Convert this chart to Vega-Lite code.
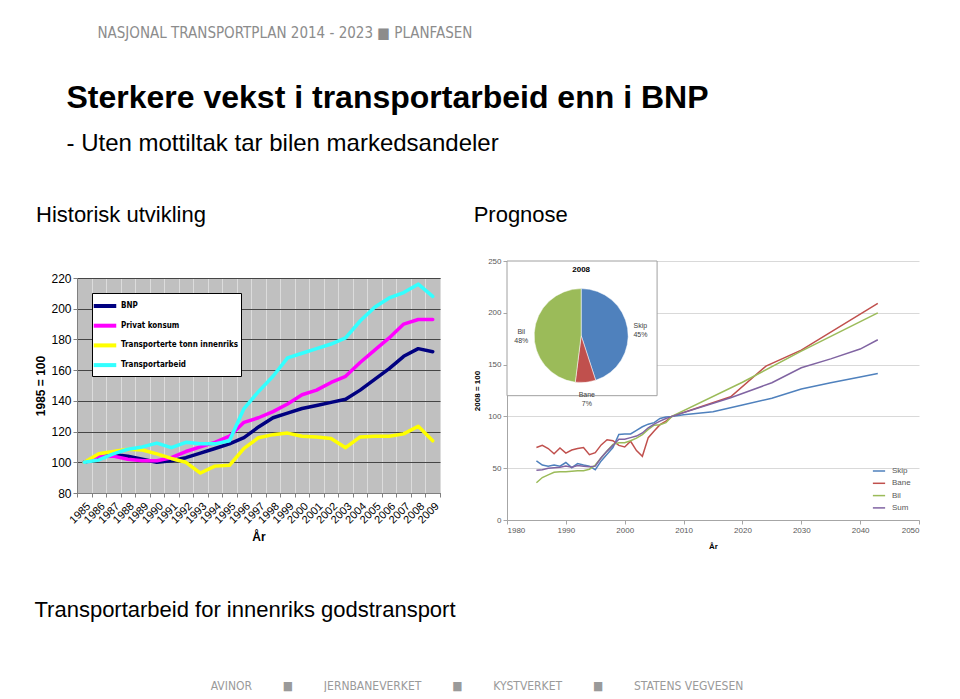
{
"$schema": "https://vega.github.io/schema/vega-lite/v6.json",
"background": "white",
"padding": {"left": 34, "top": 26, "right": 5, "bottom": 0},
"config": {"font": "Liberation Sans", "view": {"stroke": null}, "title": {"color": "black", "fontWeight": "normal"}, "axis": {"labelFont": "Liberation Sans", "titleFont": "Liberation Sans"}},
"datasets": {
"hist": [
{"year":1985,"series":"BNP","value":100},{"year":1986,"series":"BNP","value":103},{"year":1987,"series":"BNP","value":105},{"year":1988,"series":"BNP","value":104},{"year":1989,"series":"BNP","value":102},{"year":1990,"series":"BNP","value":100},{"year":1991,"series":"BNP","value":101},{"year":1992,"series":"BNP","value":103},{"year":1993,"series":"BNP","value":106},{"year":1994,"series":"BNP","value":109},{"year":1995,"series":"BNP","value":112},{"year":1996,"series":"BNP","value":116},{"year":1997,"series":"BNP","value":123},{"year":1998,"series":"BNP","value":129},{"year":1999,"series":"BNP","value":132},{"year":2000,"series":"BNP","value":135},{"year":2001,"series":"BNP","value":137},{"year":2002,"series":"BNP","value":139},{"year":2003,"series":"BNP","value":141},{"year":2004,"series":"BNP","value":147},{"year":2005,"series":"BNP","value":154},{"year":2006,"series":"BNP","value":161},{"year":2007,"series":"BNP","value":169},{"year":2008,"series":"BNP","value":174},{"year":2009,"series":"BNP","value":172},
{"year":1985,"series":"Privat konsum","value":100},{"year":1986,"series":"Privat konsum","value":104},{"year":1987,"series":"Privat konsum","value":104},{"year":1988,"series":"Privat konsum","value":102},{"year":1989,"series":"Privat konsum","value":101},{"year":1990,"series":"Privat konsum","value":101},{"year":1991,"series":"Privat konsum","value":103},{"year":1992,"series":"Privat konsum","value":107},{"year":1993,"series":"Privat konsum","value":110},{"year":1994,"series":"Privat konsum","value":113},{"year":1995,"series":"Privat konsum","value":117},{"year":1996,"series":"Privat konsum","value":126},{"year":1997,"series":"Privat konsum","value":129},{"year":1998,"series":"Privat konsum","value":133},{"year":1999,"series":"Privat konsum","value":138},{"year":2000,"series":"Privat konsum","value":144},{"year":2001,"series":"Privat konsum","value":147},{"year":2002,"series":"Privat konsum","value":152},{"year":2003,"series":"Privat konsum","value":156},{"year":2004,"series":"Privat konsum","value":165},{"year":2005,"series":"Privat konsum","value":173},{"year":2006,"series":"Privat konsum","value":181},{"year":2007,"series":"Privat konsum","value":190},{"year":2008,"series":"Privat konsum","value":193},{"year":2009,"series":"Privat konsum","value":193},
{"year":1985,"series":"Transporterte tonn innenriks","value":100},{"year":1986,"series":"Transporterte tonn innenriks","value":105.5},{"year":1987,"series":"Transporterte tonn innenriks","value":107},{"year":1988,"series":"Transporterte tonn innenriks","value":108.5},{"year":1989,"series":"Transporterte tonn innenriks","value":108},{"year":1990,"series":"Transporterte tonn innenriks","value":105.5},{"year":1991,"series":"Transporterte tonn innenriks","value":102.5},{"year":1992,"series":"Transporterte tonn innenriks","value":100},{"year":1993,"series":"Transporterte tonn innenriks","value":93},{"year":1994,"series":"Transporterte tonn innenriks","value":97.5},{"year":1995,"series":"Transporterte tonn innenriks","value":98},{"year":1996,"series":"Transporterte tonn innenriks","value":109},{"year":1997,"series":"Transporterte tonn innenriks","value":116},{"year":1998,"series":"Transporterte tonn innenriks","value":118},{"year":1999,"series":"Transporterte tonn innenriks","value":119},{"year":2000,"series":"Transporterte tonn innenriks","value":117},{"year":2001,"series":"Transporterte tonn innenriks","value":116.5},{"year":2002,"series":"Transporterte tonn innenriks","value":115.5},{"year":2003,"series":"Transporterte tonn innenriks","value":109.5},{"year":2004,"series":"Transporterte tonn innenriks","value":116.5},{"year":2005,"series":"Transporterte tonn innenriks","value":117},{"year":2006,"series":"Transporterte tonn innenriks","value":117},{"year":2007,"series":"Transporterte tonn innenriks","value":118.5},{"year":2008,"series":"Transporterte tonn innenriks","value":123.5},{"year":2009,"series":"Transporterte tonn innenriks","value":114},
{"year":1985,"series":"Transportarbeid","value":100},{"year":1986,"series":"Transportarbeid","value":101.5},{"year":1987,"series":"Transportarbeid","value":105.5},{"year":1988,"series":"Transportarbeid","value":108.5},{"year":1989,"series":"Transportarbeid","value":110},{"year":1990,"series":"Transportarbeid","value":112.5},{"year":1991,"series":"Transportarbeid","value":109.5},{"year":1992,"series":"Transportarbeid","value":113},{"year":1993,"series":"Transportarbeid","value":112},{"year":1994,"series":"Transportarbeid","value":112},{"year":1995,"series":"Transportarbeid","value":114},{"year":1996,"series":"Transportarbeid","value":135},{"year":1997,"series":"Transportarbeid","value":146},{"year":1998,"series":"Transportarbeid","value":156},{"year":1999,"series":"Transportarbeid","value":168},{"year":2000,"series":"Transportarbeid","value":171},{"year":2001,"series":"Transportarbeid","value":174},{"year":2002,"series":"Transportarbeid","value":177},{"year":2003,"series":"Transportarbeid","value":181},{"year":2004,"series":"Transportarbeid","value":192},{"year":2005,"series":"Transportarbeid","value":201},{"year":2006,"series":"Transportarbeid","value":207},{"year":2007,"series":"Transportarbeid","value":210.5},{"year":2008,"series":"Transportarbeid","value":216},{"year":2009,"series":"Transportarbeid","value":208}
],
"prog": [
{"year":1985,"series":"Skip","value":57},{"year":1986,"series":"Skip","value":53},{"year":1987,"series":"Skip","value":52},{"year":1988,"series":"Skip","value":53},{"year":1989,"series":"Skip","value":52},{"year":1990,"series":"Skip","value":55.5},{"year":1991,"series":"Skip","value":50.5},{"year":1992,"series":"Skip","value":54.5},{"year":1993,"series":"Skip","value":53},{"year":1994,"series":"Skip","value":52},{"year":1995,"series":"Skip","value":48.5},{"year":1996,"series":"Skip","value":57},{"year":1997,"series":"Skip","value":63.5},{"year":1998,"series":"Skip","value":70},{"year":1999,"series":"Skip","value":82.5},{"year":2000,"series":"Skip","value":83},{"year":2001,"series":"Skip","value":83},{"year":2002,"series":"Skip","value":86.5},{"year":2003,"series":"Skip","value":90},{"year":2004,"series":"Skip","value":92.5},{"year":2005,"series":"Skip","value":94},{"year":2006,"series":"Skip","value":98},{"year":2007,"series":"Skip","value":99.5},{"year":2008,"series":"Skip","value":100},{"year":2010,"series":"Skip","value":101.5},{"year":2015,"series":"Skip","value":104.5},{"year":2020,"series":"Skip","value":111},{"year":2025,"series":"Skip","value":117.5},{"year":2030,"series":"Skip","value":126.5},{"year":2035,"series":"Skip","value":132.5},{"year":2040,"series":"Skip","value":138},{"year":2043,"series":"Skip","value":141.5},
{"year":1985,"series":"Bane","value":70},{"year":1986,"series":"Bane","value":72},{"year":1987,"series":"Bane","value":69},{"year":1988,"series":"Bane","value":64},{"year":1989,"series":"Bane","value":69.5},{"year":1990,"series":"Bane","value":64.5},{"year":1991,"series":"Bane","value":67.5},{"year":1992,"series":"Bane","value":69},{"year":1993,"series":"Bane","value":70},{"year":1994,"series":"Bane","value":63},{"year":1995,"series":"Bane","value":65},{"year":1996,"series":"Bane","value":72.5},{"year":1997,"series":"Bane","value":77.5},{"year":1998,"series":"Bane","value":76.5},{"year":1999,"series":"Bane","value":72},{"year":2000,"series":"Bane","value":70.5},{"year":2001,"series":"Bane","value":76},{"year":2002,"series":"Bane","value":67},{"year":2003,"series":"Bane","value":61.5},{"year":2004,"series":"Bane","value":79.5},{"year":2005,"series":"Bane","value":86},{"year":2006,"series":"Bane","value":92},{"year":2007,"series":"Bane","value":95.5},{"year":2008,"series":"Bane","value":100},{"year":2018,"series":"Bane","value":119},{"year":2024,"series":"Bane","value":148.5},{"year":2030,"series":"Bane","value":164},{"year":2043,"series":"Bane","value":209},
{"year":1985,"series":"Bil","value":36},{"year":1986,"series":"Bil","value":41},{"year":1987,"series":"Bil","value":43.5},{"year":1988,"series":"Bil","value":46},{"year":1989,"series":"Bil","value":46.5},{"year":1990,"series":"Bil","value":46.5},{"year":1991,"series":"Bil","value":47},{"year":1992,"series":"Bil","value":47.5},{"year":1993,"series":"Bil","value":47.5},{"year":1994,"series":"Bil","value":49},{"year":1995,"series":"Bil","value":53},{"year":1996,"series":"Bil","value":60},{"year":1997,"series":"Bil","value":66.5},{"year":1998,"series":"Bil","value":73},{"year":1999,"series":"Bil","value":74.5},{"year":2000,"series":"Bil","value":74.5},{"year":2001,"series":"Bil","value":76.5},{"year":2002,"series":"Bil","value":79},{"year":2003,"series":"Bil","value":82.5},{"year":2004,"series":"Bil","value":87.5},{"year":2005,"series":"Bil","value":91.5},{"year":2006,"series":"Bil","value":92},{"year":2007,"series":"Bil","value":94},{"year":2008,"series":"Bil","value":100},{"year":2020,"series":"Bil","value":133},{"year":2030,"series":"Bil","value":163},{"year":2043,"series":"Bil","value":200},
{"year":1985,"series":"Sum","value":48},{"year":1986,"series":"Sum","value":48.5},{"year":1987,"series":"Sum","value":50},{"year":1988,"series":"Sum","value":50.5},{"year":1989,"series":"Sum","value":51},{"year":1990,"series":"Sum","value":52},{"year":1991,"series":"Sum","value":51},{"year":1992,"series":"Sum","value":52.5},{"year":1993,"series":"Sum","value":52},{"year":1994,"series":"Sum","value":51.5},{"year":1995,"series":"Sum","value":52},{"year":1996,"series":"Sum","value":60},{"year":1997,"series":"Sum","value":66.5},{"year":1998,"series":"Sum","value":72},{"year":1999,"series":"Sum","value":78},{"year":2000,"series":"Sum","value":78},{"year":2001,"series":"Sum","value":79.5},{"year":2002,"series":"Sum","value":81},{"year":2003,"series":"Sum","value":84},{"year":2004,"series":"Sum","value":89},{"year":2005,"series":"Sum","value":92.5},{"year":2006,"series":"Sum","value":95.5},{"year":2007,"series":"Sum","value":98},{"year":2008,"series":"Sum","value":100},{"year":2018,"series":"Sum","value":118},{"year":2025,"series":"Sum","value":132.5},{"year":2030,"series":"Sum","value":147},{"year":2035,"series":"Sum","value":155.5},{"year":2040,"series":"Sum","value":165},{"year":2043,"series":"Sum","value":174}
],
"pie": [
{"series":"Skip","pct":45,"ord":1,"label":"Skip\n45%"},
{"series":"Bane","pct":7,"ord":2,"label":"Bane\n7%"},
{"series":"Bil","pct":48,"ord":3,"label":"Bil\n48%"}
]
},
"title": {"text": "NASJONAL TRANSPORTPLAN 2014 - 2023  ■  PLANFASEN", "font": "DejaVu Sans Condensed, DejaVu Sans, sans-serif", "fontSize": 15, "color": "#8c8c8c", "fontWeight": "normal", "anchor": "start", "dx": 63, "offset": 41},
"vconcat": [{
  "title": {"text": "AVINOR\u00a0\u00a0\u00a0\u00a0\u00a0\u00a0\u00a0\u00a0\u00a0■\u00a0\u00a0\u00a0\u00a0\u00a0\u00a0\u00a0\u00a0\u00a0JERNBANEVERKET\u00a0\u00a0\u00a0\u00a0\u00a0\u00a0\u00a0\u00a0\u00a0■\u00a0\u00a0\u00a0\u00a0\u00a0\u00a0\u00a0\u00a0\u00a0KYSTVERKET\u00a0\u00a0\u00a0\u00a0\u00a0\u00a0\u00a0\u00a0\u00a0■\u00a0\u00a0\u00a0\u00a0\u00a0\u00a0\u00a0\u00a0\u00a0STATENS VEGVESEN", "orient": "bottom", "anchor": "middle", "font": "DejaVu Sans Condensed, DejaVu Sans, sans-serif", "fontSize": 12, "color": "#9a9a9a", "offset": 60},
  "vconcat": [{
    "title": {"text": "Sterkere vekst i transportarbeid enn i BNP", "subtitle": "- Uten mottiltak tar bilen markedsandeler", "fontSize": 32, "fontWeight": "bold", "color": "black", "subtitleFontSize": 24, "subtitleColor": "black", "subtitleFont": "Liberation Sans", "subtitlePadding": 17, "anchor": "start", "dx": 32, "offset": 47},
    "vconcat": [{
      "title": {"text": "Transportarbeid for innenriks godstransport", "orient": "bottom", "anchor": "start", "fontSize": 22, "color": "black", "offset": 50},
      "spacing": 31,
      "resolve": {"scale": {"color": "independent"}, "legend": {"color": "independent"}},
      "hconcat": [
        {"spacing": 0,
         "resolve": {"scale": {"color": "independent"}, "legend": {"color": "independent"}},
         "vconcat": [
          {
            "title": {"text": "Historisk utvikling", "fontSize": 22, "anchor": "start", "offset": 34, "dx": -41},
            "width": 363, "height": 10,
            "data": {"values": []},
            "mark": {"type": "point", "opacity": 0}
          },
          {
          "width": 363, "height": 215,
          "view": {"fill": "#c0c0c0", "stroke": "#808080"},
          "data": {"name": "hist"},
          "mark": {"type": "line", "strokeWidth": 3.5, "strokeJoin": "round", "strokeCap": "round"},
          "encoding": {
            "x": {"field": "year", "type": "ordinal", "bandPosition": 0.5, "scale": {"type": "band", "paddingInner": 0, "paddingOuter": 0},
                  "axis": {"title": "År", "titleFontSize": 12, "titleFontWeight": "bold", "titleColor": "black", "titlePadding": 6, "labelAngle": -45, "labelFontSize": 11, "labelColor": "black", "labelPadding": 3, "tickBand": "extent", "grid": true, "gridColor": "#dcdcdc", "domainColor": "#808080", "tickColor": "#808080", "tickSize": 4}},
            "y": {"field": "value", "type": "quantitative", "scale": {"domain": [80, 220], "nice": false, "zero": false},
                  "axis": {"values": [80,100,120,140,160,180,200,220], "title": "1985 = 100", "titleFontSize": 12, "titleFontWeight": "bold", "titleColor": "black", "titlePadding": 3, "labelFontSize": 12, "labelColor": "black", "labelPadding": 2, "gridColor": "#454545", "domainColor": "#808080", "tickColor": "#808080", "tickSize": 4}},
            "color": {"field": "series", "type": "nominal",
                      "scale": {"domain": ["BNP", "Privat konsum", "Transporterte tonn innenriks", "Transportarbeid"], "range": ["#000080", "#ff00ff", "#ffff00", "#33ffff"]},
                      "legend": {"title": null, "orient": "top-left", "offset": 15, "fillColor": "white", "strokeColor": "black", "padding": 2, "labelFont": "DejaVu Sans Condensed, DejaVu Sans, sans-serif", "labelFontSize": 8, "labelFontWeight": "bold", "labelColor": "black", "labelOffset": 5, "symbolType": "M-1.3,0H1.3", "symbolSize": 300, "symbolStrokeWidth": 4, "rowPadding": 0.7}}
          }
          }
         ]},
        {"resolve": {"scale": {"color": "independent"}, "legend": {"color": "independent"}},
         "vconcat": [{
          "title": {"text": "Prognose", "fontSize": 22, "anchor": "start", "offset": 30},
          "width": 412, "height": 259,
          "layer": [
            {
              "data": {"name": "prog"},
              "mark": {"type": "line", "strokeWidth": 1.5},
              "encoding": {
                "x": {"field": "year", "type": "quantitative", "scale": {"domain": [1980, 2050], "nice": false, "zero": false},
                      "axis": {"values": [1980,1990,2000,2010,2020,2030,2040,2050], "format": "d", "title": "År", "titleFontSize": 8, "titleFontWeight": "bold", "titleColor": "black", "titlePadding": 8, "labelFontSize": 8, "labelColor": "#595959", "grid": false, "domainColor": "#a6a6a6", "tickColor": "#a6a6a6", "tickSize": 4}},
                "y": {"field": "value", "type": "quantitative", "scale": {"domain": [0, 250], "nice": false},
                      "axis": {"values": [0,50,100,150,200,250], "title": "2008 = 100", "titleFontSize": 8, "titleFontWeight": "bold", "titleColor": "black", "titlePadding": 6, "labelFontSize": 8, "labelColor": "#595959", "gridColor": "#d9d9d9", "domainColor": "#a6a6a6", "tickColor": "#a6a6a6", "tickSize": 4}},
                "color": {"field": "series", "type": "nominal",
                          "scale": {"domain": ["Skip", "Bane", "Bil", "Sum"], "range": ["#4f81bd", "#c0504d", "#9bbb59", "#8064a2"]},
                          "legend": {"title": null, "orient": "bottom-right", "offset": 8, "labelFontSize": 8, "labelColor": "#595959", "labelOffset": 6, "symbolType": "stroke", "symbolSize": 150, "symbolStrokeWidth": 1.5, "rowPadding": 1.3}}
              }
            },
            {
              "data": {"values": [{"box": "2008"}]},
              "mark": {"type": "rect", "fill": "white", "stroke": "#a0a0a0", "strokeWidth": 1},
              "encoding": {"x": {"datum": 1980}, "x2": {"datum": 2005.5}, "y": {"datum": 120}, "y2": {"datum": 250}}
            },
            {
              "data": {"values": [{"box": "2008"}]},
              "mark": {"type": "text", "fontSize": 8, "fontWeight": "bold", "color": "black"},
              "encoding": {"x": {"datum": 1992.6}, "y": {"datum": 241}, "text": {"field": "box"}}
            },
            {
              "data": {"name": "pie"},
              "mark": {"type": "arc", "outerRadius": 47, "stroke": "white", "strokeWidth": 0.5},
              "encoding": {
                "theta": {"field": "pct", "type": "quantitative", "stack": true},
                "order": {"field": "ord", "type": "quantitative"},
                "fill": {"field": "series", "type": "nominal", "scale": {"domain": ["Skip", "Bane", "Bil"], "range": ["#4f81bd", "#c0504d", "#9bbb59"]}, "legend": null},
                "x": {"datum": 1992.6}, "y": {"datum": 178}
              }
            },
            {
              "data": {"name": "pie"},
              "mark": {"type": "text", "radius": 60, "fontSize": 7, "color": "#404040", "lineBreak": "\n"},
              "encoding": {
                "theta": {"field": "pct", "type": "quantitative", "stack": true},
                "order": {"field": "ord", "type": "quantitative"},
                "text": {"field": "label"},
                "x": {"datum": 1992.6}, "y": {"datum": 178}
              }
            }
          ]
        }]}
      ]
    }]
  }]
}]
}
